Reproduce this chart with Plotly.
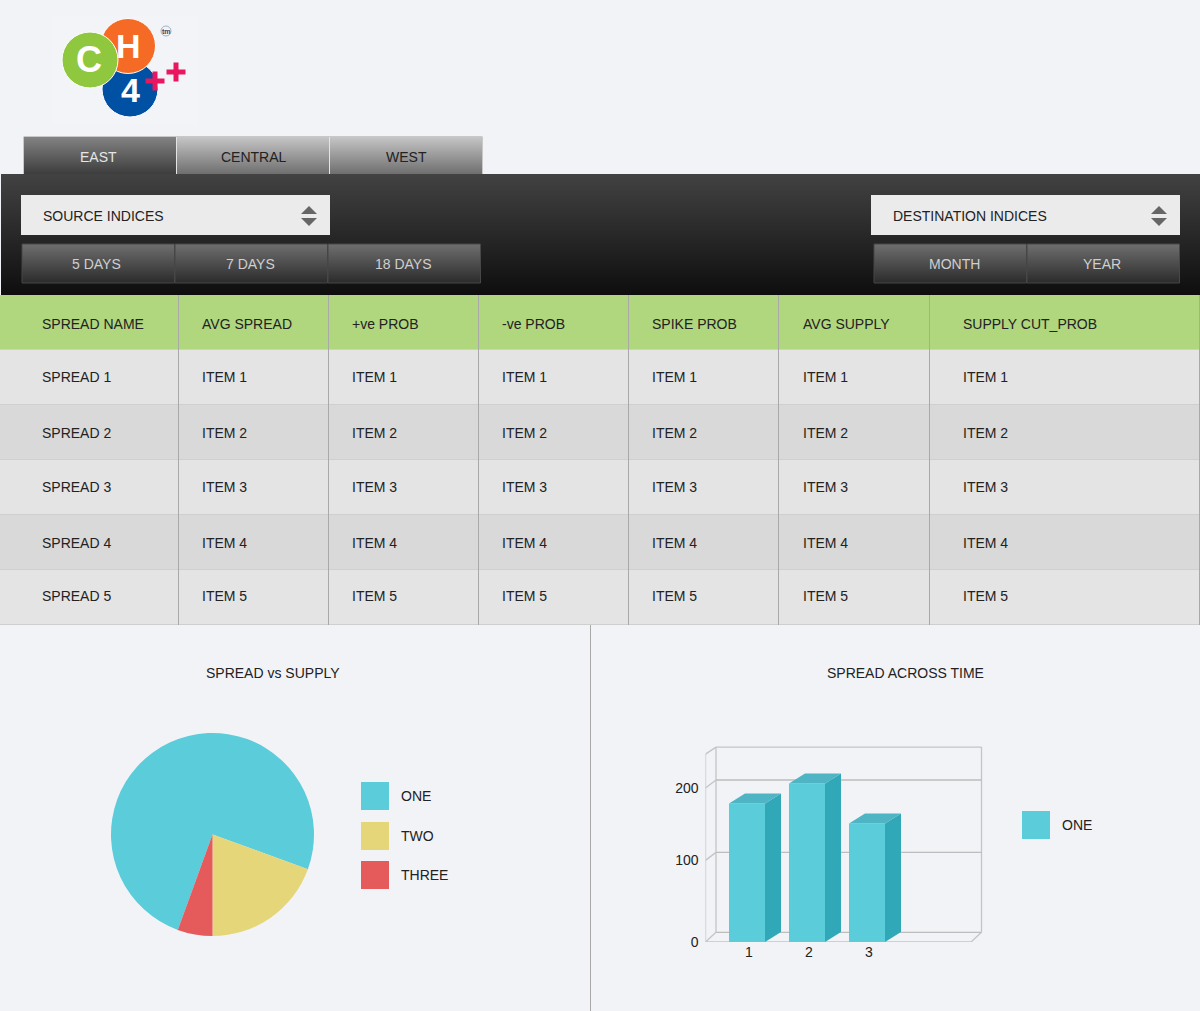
import plotly.graph_objects as go

W = 1200
H = 1011
FONT = "Liberation Sans"

# ---------------------------------------------------------------- data
tabs = ["EAST", "CENTRAL", "WEST"]
left_buttons = ["5 DAYS", "7 DAYS", "18 DAYS"]
right_buttons = ["MONTH", "YEAR"]
columns = ["SPREAD NAME", "AVG SPREAD", "+ve PROB", "-ve PROB", "SPIKE PROB", "AVG SUPPLY", "SUPPLY CUT_PROB"]
row_names = ["SPREAD 1", "SPREAD 2", "SPREAD 3", "SPREAD 4", "SPREAD 5"]
row_items = ["ITEM 1", "ITEM 2", "ITEM 3", "ITEM 4", "ITEM 5"]

pie_labels = ["ONE", "TWO", "THREE"]
pie_values = [270, 70, 20]
pie_colors = ["#5accda", "#e6d67a", "#e55a5b"]

bar_cats = [1, 2, 3]
bar_values = [180, 206, 154]
bar_name = "ONE"
y_ticks = [0, 100, 200]
# the 100 tick in the picture does not sit halfway between 0 and 200
y_tick_places = [0, 106, 200]


def fx(px):
    return px / W


def fy(py):
    return 1 - py / H


shapes = []
annots = []


def rect(x0, y0, x1, y1, color, line=None):
    shapes.append(dict(type="rect", xref="paper", yref="paper", layer="below",
                       x0=fx(x0), x1=fx(x1), y0=fy(y0), y1=fy(y1), fillcolor=color,
                       line=dict(color=line, width=1) if line else dict(width=0)))


def vline(x, y0, y1, color):
    shapes.append(dict(type="line", xref="paper", yref="paper", layer="below",
                       x0=fx(x), x1=fx(x), y0=fy(y0), y1=fy(y1), line=dict(color=color, width=1)))


def hline(x0, x1, y, color):
    shapes.append(dict(type="line", xref="paper", yref="paper", layer="below",
                       x0=fx(x0), x1=fx(x1), y0=fy(y), y1=fy(y), line=dict(color=color, width=1)))


def gradient(x0, y0, x1, y1, top, bottom):
    # plotly shapes have no gradient fill, so paint strips over each other,
    # each one running to the bottom so no background shows between them
    n = int(y1 - y0)
    for i in range(n):
        t = i / max(n - 1, 1)
        c = [round(a + (b - a) * t) for a, b in zip(top, bottom)]
        rect(x0, y0 + i, x1, y1, "rgb(%d,%d,%d)" % tuple(c))


def text(x, y, s, size=14, color="#222222", anchor="left", bold=False):
    # left anchored annotations land a pixel to the right of where they are asked for
    if anchor == "left":
        x -= 1
    annots.append(dict(xref="paper", yref="paper", x=fx(x), y=fy(y), text="<b>%s</b>" % s if bold else s,
                       showarrow=False, xanchor=anchor, yanchor="middle", align=anchor,
                       borderpad=0, font=dict(family=FONT, size=size, color=color)))


def circle(cx, cy, r, color, line="#ffffff", width=1):
    shapes.append(dict(type="circle", xref="paper", yref="paper", layer="below",
                       x0=fx(cx - r), x1=fx(cx + r), y0=fy(cy + r), y1=fy(cy - r), fillcolor=color,
                       line=dict(color=line, width=width)))


def plus(cx, cy):
    rect(cx - 9.5, cy - 2.5, cx + 9.5, cy + 2.5, "#e8175f")
    rect(cx - 2.5, cy - 9.5, cx + 2.5, cy + 9.5, "#e8175f")


def triangle(cx, tip, base, half, color="#666666"):
    path = "M %f %f L %f %f L %f %f Z" % (fx(cx), fy(tip), fx(cx - half), fy(base), fx(cx + half), fy(base))
    shapes.append(dict(type="path", xref="paper", yref="paper", layer="below", path=path,
                       fillcolor=color, line=dict(width=0)))


# ---------------------------------------------------------------- logo
rect(52, 15, 198, 125, "#f3f4f8")
circle(130, 89, 28, "#0050a4")
circle(128, 46, 27.5, "#f56a25")
circle(90, 60, 28, "#8fc83e")
text(128, 46, "H", size=34, color="#ffffff", anchor="center", bold=True)
text(130, 90, "4", size=34, color="#ffffff", anchor="center", bold=True)
text(88.5, 59, "C", size=36, color="#ffffff", anchor="center", bold=True)
plus(155, 81)
plus(176, 72)
circle(166, 31, 5, "#f2f3f7", line="#9fb4c8")
text(166, 31, "tm", size=7, color="#334466", anchor="center", bold=True)

# ---------------------------------------------------------------- tabs
tab_x = [24, 177, 330]
for i, tab in enumerate(tabs):
    active = i == 0
    gradient(tab_x[i], 137, tab_x[i] + 152.5, 174,
             (130, 130, 130) if active else (196, 196, 196),
             (62, 62, 62) if active else (112, 112, 112))
    text(tab_x[i] + (74 if active else 76.5), 157, tab, color="#e6e6e6" if active else "#222222", anchor="center")
hline(23.5, 482.5, 136.5, "#c8c8c8")
vline(23.5, 137, 174, "#c8c8c8")
vline(176.5, 137, 174, "#e4e4e4")
vline(329.5, 137, 174, "#e4e4e4")
vline(482.5, 137, 174, "#c8c8c8")

# ---------------------------------------------------------------- dark panel
gradient(1, 174, W, 295, (66, 66, 66), (14, 14, 14))

rect(21, 195, 330, 235, "#ebebeb")
rect(871, 195, 1180, 235, "#ebebeb")
text(43, 216, "SOURCE INDICES")
text(893, 216, "DESTINATION INDICES")
for ax in (309, 1159):
    triangle(ax, 206, 214, 8)
    triangle(ax, 226, 218, 8)

left_x = [22, 175, 328]
right_x = [874, 1027]
for xs, labels, offsets in ((left_x, left_buttons, (75, 75, 75)), (right_x, right_buttons, (80, 75))):
    for x, label, dx in zip(xs, labels, offsets):
        gradient(x, 244, x + 152.5, 283, (110, 110, 110), (44, 44, 44))
        shapes.append(dict(type="rect", xref="paper", yref="paper", layer="below",
                           x0=fx(x), x1=fx(x + 152.5), y0=fy(283), y1=fy(244),
                           line=dict(color="#474747", width=1)))
        text(x + dx, 264, label, color="#cfcfcf", anchor="center")

# ---------------------------------------------------------------- table
col_x = [0, 179, 329, 479, 629, 779, 930, W]
row_y = [295, 350, 405, 460, 515, 570, 625]
rect(0, row_y[0], W, row_y[1], "#b0d67e")
for i in range(len(row_names)):
    rect(0, row_y[i + 1], W, row_y[i + 2], "#e4e4e4" if i % 2 == 0 else "#d9d9d9")
for y in row_y[1:]:
    hline(0, W, y - 0.5, "#cfcfcf")
for x in col_x[1:]:
    vline(x - 0.5, row_y[0], row_y[-1], "#a9a9a9")

text_y = [324, 377, 433, 487, 543, 596]
pads = [42, 23, 23, 23, 23, 24, 33]
for c, name in enumerate(columns):
    left = col_x[c] + pads[c]
    text(left, text_y[0], name)
    for r in range(len(row_names)):
        text(left, text_y[r + 1], row_names[r] if c == 0 else row_items[r])

# ---------------------------------------------------------------- lower panels
vline(590.5, 625, H, "#a9a9a9")
text(273, 673, "SPREAD vs SUPPLY", anchor="center")
text(905, 673, "SPREAD ACROSS TIME", anchor="center")

for label, color, y in zip(pie_labels, pie_colors, [782, 822, 861]):
    rect(361, y, 389, y + 28, color)
    text(401, y + 14, label)
rect(1022, 811, 1050, 839, pie_colors[0])
text(1062, 825, bar_name)

fig = go.Figure()

fig.add_trace(go.Pie(labels=pie_labels, values=pie_values, sort=False, direction="clockwise", rotation=200,
                     marker=dict(colors=pie_colors, line=dict(width=0)), textinfo="none", showlegend=False,
                     domain=dict(x=[fx(111), fx(314)], y=[fy(936), fy(733)])))

# 3D look: back wall sits a fixed offset behind the front plane
px_x = 60.0        # pixels per category
px_y = 0.77        # pixels per y unit
x_left = 1 - (747 - 705.5) / px_x
x_right = 1 + (971 - 747) / px_x
y_top = 244
wall_dx = 10.5 / px_x
floor_dy = 9.7 / px_y
grid_dy = 8 / px_y
top_dy = 7 / px_y
bar_w = 0.6
bar_dx = 16 / px_x
bar_dy = 10 / px_y

fig.add_trace(go.Bar(x=bar_cats, y=bar_values, width=bar_w, name=bar_name, showlegend=False,
                     marker=dict(color="#5accda", line=dict(width=0))))

for x, v in zip(bar_cats, bar_values):
    x0 = x - bar_w / 2
    x1 = x + bar_w / 2
    fig.add_trace(go.Scatter(x=[x1, x1 + bar_dx, x1 + bar_dx, x1, x1], y=[0, bar_dy, v + bar_dy, v, 0],
                             mode="lines", fill="toself", fillcolor="#31a8b7", line=dict(width=0),
                             hoverinfo="skip", showlegend=False))
    fig.add_trace(go.Scatter(x=[x0, x0 + bar_dx, x1 + bar_dx, x1, x0], y=[v, v + bar_dy, v + bar_dy, v, v],
                             mode="lines", fill="toself", fillcolor="#4fb4c3", line=dict(width=0),
                             hoverinfo="skip", showlegend=False))


def frame(x0, y0, x1, y1, color="#c4c4c7"):
    shapes.append(dict(type="line", xref="x", yref="y", layer="below", x0=x0, y0=y0, x1=x1, y1=y1,
                       line=dict(color=color, width=1.3)))


# floor and walls
back_left = x_left + wall_dx
back_right = x_right + wall_dx
frame(x_left, 0, x_right, 0)
frame(x_left, 0, x_left, y_top)
frame(x_left, 0, back_left, floor_dy)
frame(x_right, 0, back_right, floor_dy)
frame(back_left, floor_dy, back_right, floor_dy, "#bdbdbd")
frame(back_left, floor_dy, back_left, y_top + top_dy)
frame(back_right, floor_dy, back_right, y_top + top_dy)
frame(back_left, y_top + top_dy, back_right, y_top + top_dy)
frame(x_left, y_top, back_left, y_top + top_dy)
for v in y_tick_places[1:]:
    frame(x_left, v, back_left, v + grid_dy)
    frame(back_left, v + grid_dy, back_right, v + grid_dy, "#bdbdbd")

dom_right = 985
dom_top = 744
fig.update_layout(
    width=W, height=H,
    margin=dict(l=0, r=0, t=0, b=0),
    autosize=False,
    paper_bgcolor="#f2f3f7",
    plot_bgcolor="rgba(0,0,0,0)",
    font=dict(family=FONT, size=14, color="#222222"),
    barmode="overlay",
    shapes=shapes,
    annotations=annots,
    xaxis=dict(domain=[fx(705.5), fx(dom_right)], range=[x_left, 1 + (dom_right - 747) / px_x],
               tickvals=bar_cats, ticktext=[str(c) for c in bar_cats], showgrid=False, zeroline=False,
               showline=False, ticks="", automargin=False, ticklabelshift=2,
               tickfont=dict(family=FONT, size=14, color="#222222"), fixedrange=True),
    yaxis=dict(domain=[fy(942), fy(dom_top)], range=[0, (942 - dom_top) / px_y],
               tickvals=y_tick_places, ticktext=[str(t) for t in y_ticks], showgrid=False, zeroline=False,
               showline=False, ticks="", automargin=False, ticklabelstandoff=6,
               tickfont=dict(family=FONT, size=14, color="#222222"), fixedrange=True),
)

fig.write_html("out.html", config=dict(displayModeBar=False),
               post_script="document.body.style.margin='0';document.body.style.overflow='hidden';")
